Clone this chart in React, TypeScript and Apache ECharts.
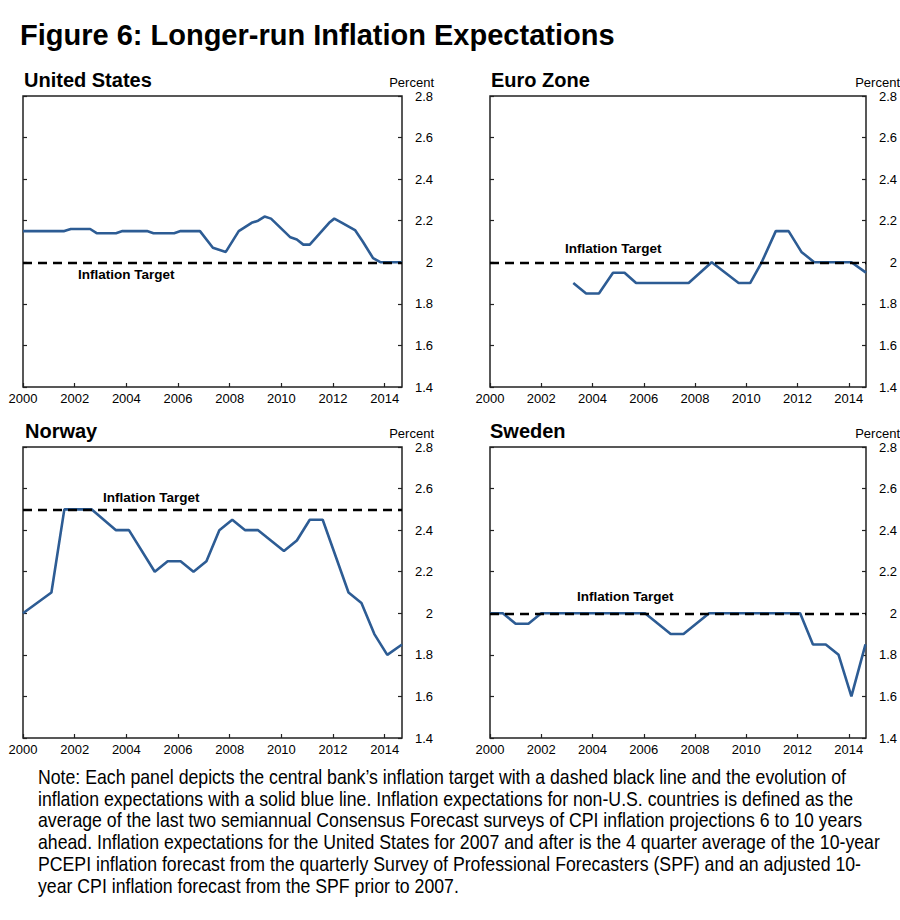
import React, { useEffect, useRef } from "react";
import * as echarts from "echarts";

const FONT = "'Liberation Sans', Arial, Helvetica, sans-serif";

const panelTitles = ["United States", "Euro Zone", "Norway", "Sweden"];
const targets = [2.0, 2.0, 2.5, 2.0];

const usYears = [2000, 2001.6, 2001.85, 2002.6, 2002.85, 2003.6, 2003.85, 2004.8, 2005.05, 2005.85, 2006.1, 2006.85, 2007.35, 2007.85, 2008.35, 2008.85, 2009.1, 2009.35, 2009.6, 2010.35, 2010.6, 2010.85, 2011.1, 2011.85, 2012.05, 2012.35, 2012.85, 2013.15, 2013.55, 2013.85, 2014.67];
const usValues = [2.15, 2.15, 2.16, 2.16, 2.14, 2.14, 2.15, 2.15, 2.14, 2.14, 2.15, 2.15, 2.07, 2.05, 2.15, 2.19, 2.2, 2.22, 2.21, 2.12, 2.11, 2.085, 2.085, 2.19, 2.21, 2.19, 2.155, 2.1, 2.02, 2.0, 2.0];

const euYears = [2003.25, 2003.75, 2004.25, 2004.8, 2005.25, 2005.7, 2007.75, 2008.65, 2009.7, 2010.15, 2010.6, 2011.15, 2011.65, 2012.15, 2012.65, 2014.1, 2014.67];
const euValues = [1.9, 1.85, 1.85, 1.95, 1.95, 1.9, 1.9, 2.0, 1.9, 1.9, 2.0, 2.15, 2.15, 2.05, 2.0, 2.0, 1.95];

const noYears = [2000, 2001.1, 2001.6, 2002.65, 2003.6, 2004.1, 2005.1, 2005.6, 2006.1, 2006.6, 2007.1, 2007.6, 2008.1, 2008.6, 2009.1, 2010.1, 2010.6, 2011.1, 2011.6, 2012.6, 2013.1, 2013.6, 2014.1, 2014.67];
const noValues = [2.0, 2.1, 2.5, 2.5, 2.4, 2.4, 2.2, 2.25, 2.25, 2.2, 2.25, 2.4, 2.45, 2.4, 2.4, 2.3, 2.35, 2.45, 2.45, 2.1, 2.05, 1.9, 1.8, 1.85];

const seYears = [2000, 2000.5, 2001.0, 2001.5, 2002.0, 2006.05, 2007.05, 2007.55, 2008.55, 2012.1, 2012.6, 2013.1, 2013.6, 2014.1, 2014.65];
const seValues = [2.0, 2.0, 1.95, 1.95, 2.0, 2.0, 1.9, 1.9, 2.0, 2.0, 1.85, 1.85, 1.8, 1.6, 1.85];

const xTicks = { min: 2000, max: 2014.67, interval: 2 };
const yTicks = { min: 1.4, max: 2.8, interval: 0.2 };

const noteLines = [
  "Note: Each panel depicts the central bank\u2019s inflation target with a dashed black line and the evolution of",
  "inflation expectations with a solid blue line. Inflation expectations for non-U.S. countries is defined as the",
  "average of the last two semiannual Consensus Forecast surveys of CPI inflation projections 6 to 10 years",
  "ahead. Inflation expectations for the United States for 2007 and after is the 4 quarter average of the 10-year",
  "PCEPI inflation forecast from the quarterly Survey of Professional Forecasters (SPF) and an adjusted 10-",
  "year CPI inflation forecast from the SPF prior to 2007.",
];

const seriesYears = [usYears, euYears, noYears, seYears];
const seriesValues = [usValues, euValues, noValues, seValues];

// layout
const grids = [
  { left: 23, top: 96, width: 379, height: 291 },
  { left: 490, top: 96, width: 378, height: 291 },
  { left: 23, top: 447, width: 379, height: 291 },
  { left: 490, top: 447, width: 378, height: 291 },
];
const titlePos = [
  [24, 80],
  [491, 80],
  [25, 431],
  [490, 431],
];
const targetLabelPos = [
  [78, 274],
  [565, 248],
  [103, 497],
  [577, 596],
];

export default function App() {
  const ref = useRef<HTMLDivElement>(null);
  useEffect(() => {
    if (!ref.current) return;
    const chart = echarts.init(ref.current, null, { renderer: "svg" });
    const xAxis: any[] = [];
    const yAxis: any[] = [];
    const series: any[] = [];
    const graphic: any[] = [];

    graphic.push({
      type: "text",
      x: 20,
      y: 35,
      style: {
        text: "Figure 6: Longer-run Inflation Expectations",
        font: `bold 29px ${FONT}`,
        fill: "#000",
        textVerticalAlign: "middle",
      },
    });

    grids.forEach((g, i) => {
      xAxis.push({
        type: "value",
        gridIndex: i,
        min: xTicks.min,
        max: xTicks.max,
        interval: xTicks.interval,
        axisLine: { show: false },
        axisTick: { show: true, inside: true, length: 4, lineStyle: { color: "#222", width: 1.2 } },
        axisLabel: {
          show: true,
          showMaxLabel: false,
          color: "#000",
          fontFamily: FONT,
          fontSize: 13,
          margin: 5,
          formatter: (v: number) => String(Math.round(v)),
        },
        splitLine: { show: false },
      });
      yAxis.push({
        type: "value",
        gridIndex: i,
        position: "right",
        min: yTicks.min,
        max: yTicks.max,
        interval: yTicks.interval,
        axisLine: { show: false },
        axisTick: { show: true, inside: true, length: 4, lineStyle: { color: "#222", width: 1.2 } },
        axisLabel: {
          show: true,
          color: "#000",
          fontFamily: FONT,
          fontSize: 13,
          align: "right",
          margin: 31,
        },
        splitLine: { show: false },
      });
      yAxis.push({
        type: "value",
        gridIndex: i,
        position: "left",
        min: yTicks.min,
        max: yTicks.max,
        interval: yTicks.interval,
        axisLine: { show: false },
        axisTick: { show: true, inside: true, length: 4, lineStyle: { color: "#222", width: 1.2 } },
        axisLabel: { show: false },
        splitLine: { show: false },
      });
      const data = seriesYears[i].map((y, k) => [y, seriesValues[i][k]]);
      series.push({
        type: "line",
        xAxisIndex: i,
        yAxisIndex: i * 2,
        data,
        symbol: "none",
        lineStyle: { color: "#2D5C94", width: 2.6 },
        z: 3,
        markLine: {
          silent: true,
          symbol: ["none", "none"],
          label: { show: false },
          lineStyle: { color: "#000", type: [9, 6], width: 2.4 },
          data: [{ yAxis: targets[i] }],
          z: 4,
        },
      });
      graphic.push({
        type: "text",
        x: titlePos[i][0],
        y: titlePos[i][1],
        style: {
          text: panelTitles[i],
          font: `bold 20px ${FONT}`,
          fill: "#000",
          textVerticalAlign: "middle",
        },
      });
      graphic.push({
        type: "text",
        x: g.left + g.width + 32,
        y: g.top - 14,
        style: {
          text: "Percent",
          font: `13px ${FONT}`,
          fill: "#000",
          textAlign: "right",
          textVerticalAlign: "middle",
        },
      });
      graphic.push({
        type: "text",
        x: targetLabelPos[i][0],
        y: targetLabelPos[i][1],
        style: {
          text: "Inflation Target",
          font: `bold 13.5px ${FONT}`,
          fill: "#000",
          textVerticalAlign: "middle",
        },
      });
    });

    noteLines.forEach((t, i) => {
      graphic.push({
        type: "text",
        x: 38,
        y: 777 + i * 21.8,
        scaleY: 1.12,
        style: {
          text: t,
          font: `17.7px ${FONT}`,
          fill: "#000",
          textVerticalAlign: "middle",
        },
      });
    });

    chart.setOption({
      animation: false,
      backgroundColor: "#fff",
      grid: grids.map((g) => ({
        ...g,
        show: true,
        borderColor: "#222",
        borderWidth: 1.5,
        backgroundColor: "transparent",
      })),
      xAxis,
      yAxis,
      series,
      graphic,
    });
    return () => chart.dispose();
  }, []);
  return (
    <div style={{ position: "absolute", left: 0, top: 0 }}>
      <div ref={ref} style={{ width: 900, height: 920 }} />
    </div>
  );
}
